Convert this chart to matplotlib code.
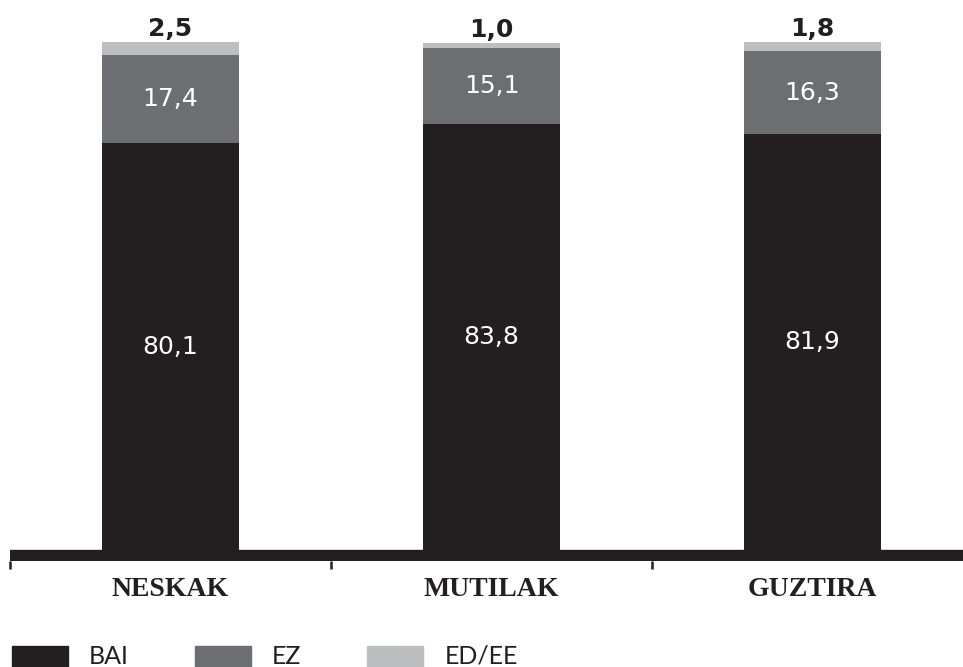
import matplotlib
matplotlib.use("Agg")
import matplotlib.pyplot as plt
from matplotlib.patches import Rectangle
import numpy as np

categories = ["NESKAK", "MUTILAK", "GUZTIRA"]
bai = [80.1, 83.8, 81.9]
ez = [17.4, 15.1, 16.3]
ed_ee = [2.5, 1.0, 1.8]
series_names = ["BAI", "EZ", "ED/EE"]
colors = ["#231f20", "#6d6e71", "#bcbec0"]

W, H = 963, 667
fig = plt.figure(figsize=(W / 100, H / 100), dpi=100)

# axes geometry (pixels)
left_px, bottom_px, top_px = 10, 561, 42
zero_px = 550
px_per_unit = (zero_px - top_px) / 100.0
band_units = (bottom_px - zero_px) / px_per_unit
cat_w_px = 321
ax = fig.add_axes([left_px / W, (H - bottom_px) / H, 3 * cat_w_px / W, (bottom_px - top_px) / H])
ax.set_xlim(-0.5, 2.5)
ax.set_ylim(-band_units, 100)
for s in ax.spines.values():
    s.set_visible(False)

x = np.arange(len(categories))
bw = 0.427
ax.bar(x, bai, bw, color=colors[0], zorder=2)
ax.bar(x, ez, bw, bottom=bai, color=colors[1], zorder=2)
ax.bar(x, ed_ee, bw, bottom=np.array(bai) + np.array(ez), color=colors[2], zorder=2)

# thick base band
ax.axhspan(-band_units, 0, color="#231f20", zorder=3)

# ticks
ax.set_yticks([])
ax.set_xticks([])
ax.set_xticks(np.arange(-0.5, 2.6, 1.0), minor=True)
ax.tick_params(axis="x", which="minor", direction="out", length=5.8, width=1.8,
               color="#231f20", labelbottom=False)

val_font = dict(family="DejaVu Sans")
for i in range(len(categories)):
    ax.text(x[i], bai[i] / 2, f"{bai[i]:.1f}".replace(".", ","), color="white",
            ha="center", va="center", fontsize=18, zorder=4, **val_font)
    ax.text(x[i], bai[i] + ez[i] / 2, f"{ez[i]:.1f}".replace(".", ","), color="white",
            ha="center", va="center", fontsize=18, zorder=4, **val_font)
    top = bai[i] + ez[i] + ed_ee[i]
    ax.text(x[i], top + (42 - 29) / px_per_unit, f"{ed_ee[i]:.1f}".replace(".", ","),
            color="#231f20", ha="center", va="center", fontsize=18, fontweight="bold",
            clip_on=False, zorder=4, **val_font)
    ax.text(x[i], (zero_px - 589) / px_per_unit, categories[i], color="#231f20",
            ha="center", va="center", fontsize=20, fontweight="bold",
            family="Liberation Serif", clip_on=False)

# legend
rect_x = [12, 195, 367]
text_x = [89, 272, 445]
for i, name in enumerate(series_names):
    fig.patches.append(Rectangle((rect_x[i] / W, 0), 56 / W, (667 - 646) / H,
                                 transform=fig.transFigure, color=colors[i]))
    fig.text(text_x[i] / W, 3 / H, name, ha="left", va="baseline", fontsize=18,
             family="Lato", color="#231f20")

fig.savefig("out.png", dpi=100)
